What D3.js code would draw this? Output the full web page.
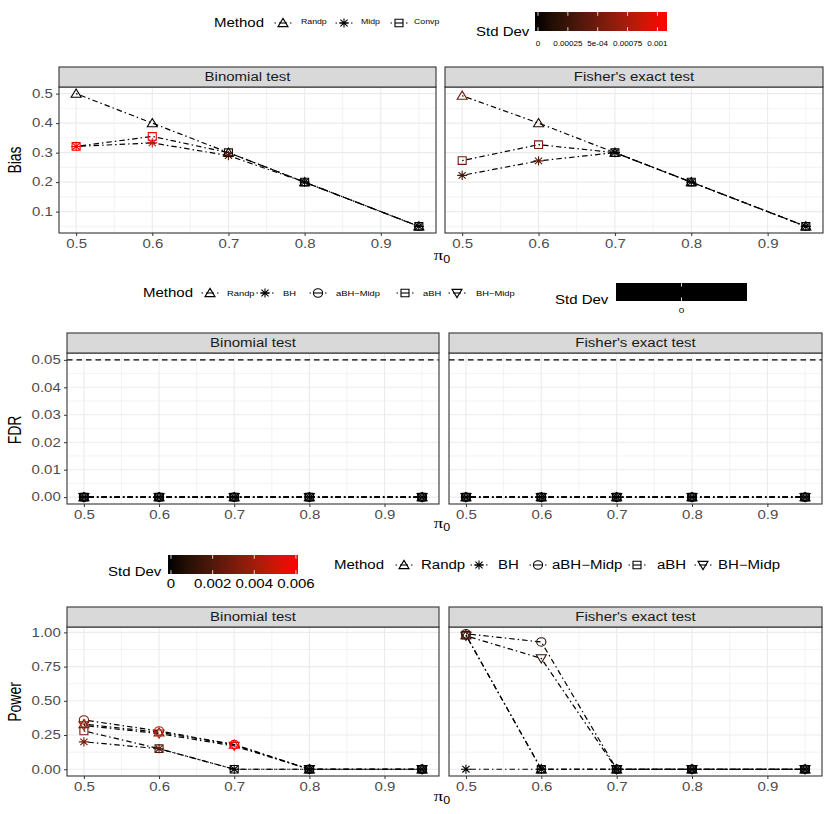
<!DOCTYPE html>
<html>
<head>
<meta charset="utf-8">
<script src="https://cdn.jsdelivr.net/npm/d3@7"></script>
<style>
  body { margin: 0; background: #fff; }
  svg { display: block; }
</style>
</head>
<body>
<div id="chart"></div>
<script>
// ---- data ----
const pi0 = [0.5, 0.6, 0.7, 0.8, 0.95];
const xTickValues = [0.5, 0.6, 0.7, 0.8, 0.9];
const testNames = ["Binomial test", "Fisher's exact test"];

const biasMethods = ["Randp", "Midp", "Convp"];
const fdrMethods = ["Randp", "BH", "aBH\u2212Midp", "aBH", "BH\u2212Midp"];

// bias, binomial test
const biasBinRandp = [0.50, 0.40, 0.30, 0.20, 0.05];
const biasBinMidp = [0.321, 0.333, 0.290, 0.20, 0.05];
const biasBinConvp = [0.321, 0.355, 0.300, 0.20, 0.05];
const sdBiasBinRandp = [0, 0, 0, 0, 0];
const sdBiasBinMidp = [0.00105, 0.0008, 0.00035, 0, 0];
const sdBiasBinConvp = [0.00107, 0.00105, 0.0001, 0, 0];
// bias, fisher
const biasFisRandp = [0.493, 0.40, 0.30, 0.20, 0.05];
const biasFisMidp = [0.223, 0.272, 0.30, 0.20, 0.05];
const biasFisConvp = [0.273, 0.327, 0.30, 0.20, 0.05];
const sdBiasFisRandp = [0.0005, 0.0001, 0, 0, 0];
const sdBiasFisMidp = [0.0003, 0.0004, 0, 0, 0];
const sdBiasFisConvp = [0.0005, 0.00055, 0, 0, 0];

// FDR (all methods zero in both tests)
const fdrBinRandp = [0, 0, 0, 0, 0];
const fdrBinBH = [0, 0, 0, 0, 0];
const fdrBinABHMidp = [0, 0, 0, 0, 0];
const fdrBinABH = [0, 0, 0, 0, 0];
const fdrBinBHMidp = [0, 0, 0, 0, 0];
const fdrFisRandp = [0, 0, 0, 0, 0];
const fdrFisBH = [0, 0, 0, 0, 0];
const fdrFisABHMidp = [0, 0, 0, 0, 0];
const fdrFisABH = [0, 0, 0, 0, 0];
const fdrFisBHMidp = [0, 0, 0, 0, 0];
const sdFdr = [0, 0, 0, 0, 0];
const fdrLevel = 0.05;

// power, binomial test
const powBinRandp = [0.33, 0.27, 0.18, 0, 0];
const powBinBH = [0.20, 0.15, 0, 0, 0];
const powBinABHMidp = [0.36, 0.28, 0.18, 0, 0];
const powBinABH = [0.28, 0.15, 0, 0, 0];
const powBinBHMidp = [0.32, 0.26, 0.17, 0, 0];
const sdPowBinRandp = [0.0035, 0.004, 0.006, 0, 0];
const sdPowBinBH = [0.003, 0.002, 0, 0, 0];
const sdPowBinABHMidp = [0.003, 0.0048, 0.006, 0, 0];
const sdPowBinABH = [0.003, 0.002, 0, 0, 0];
const sdPowBinBHMidp = [0.0035, 0.0045, 0.006, 0, 0];
// power, fisher
const powFisRandp = [0.98, 0, 0, 0, 0];
const powFisBH = [0, 0, 0, 0, 0];
const powFisABHMidp = [0.99, 0.93, 0, 0, 0];
const powFisABH = [0.98, 0, 0, 0, 0];
const powFisBHMidp = [0.975, 0.81, 0, 0, 0];
const sdPowFisRandp = [0.0015, 0, 0, 0, 0];
const sdPowFisBH = [0, 0, 0, 0, 0];
const sdPowFisABHMidp = [0.0015, 0.001, 0, 0, 0];
const sdPowFisABH = [0.0015, 0, 0, 0, 0];
const sdPowFisBHMidp = [0.0015, 0.001, 0, 0, 0];

// tick labels
const biasYTicks = [0.1, 0.2, 0.3, 0.4, 0.5];
const fdrYTicks = [0, 0.01, 0.02, 0.03, 0.04, 0.05];
const powYTicks = [0, 0.25, 0.5, 0.75, 1];
const biasSdMax = 0.00108;
const biasSdTicks = [0, 0.00025, 0.0005, 0.00075, 0.001];
const biasSdLabels = ["0", "0.00025", "5e-04", "0.00075", "0.001"];
const powSdMax = 0.0061;
const powSdTicks = [0, 0.002, 0.004, 0.006];
const powSdLabels = ["0", "0.002", "0.004", "0.006"];

// ---- setup ----
const FONT = "'Liberation Sans', Arial, Helvetica, sans-serif";
const SX = 1.25; // the original image is horizontally stretched
const shapeOf = {
    "Randp": "triUp", "Midp": "star", "Convp": "square",
    "BH": "star", "aBH\u2212Midp": "circle", "aBH": "square", "BH\u2212Midp": "triDown"
};

const svg = d3.select("#chart").append("svg")
    .attr("width", 830).attr("height", 814)
    .style("font-family", FONT);
const defs = svg.append("defs");

function label(g, x, y, s, size, anchor, fill) {
    return g.append("text")
        .attr("transform", `translate(${x},${y}) scale(${SX},1)`)
        .attr("text-anchor", anchor || "start")
        .attr("font-size", size)
        .attr("fill", fill || "#000")
        .text(s);
}

function shapePath(name) {
    switch (name) {
        case "triUp": return "M0,-4.6L5,3.6L-5,3.6Z";
        case "triDown": return "M0,4.6L5,-3.6L-5,-3.6Z";
        case "square": return "M-4,-3.8H4V3.8H-4Z";
        case "circle": return "M4.6,0A4.6,4.2 0 1 1 -4.6,0A4.6,4.2 0 1 1 4.6,0Z";
        case "star": return "M0,-4.6V4.6M-5,0H5M-3.6,-3.3L3.6,3.3M-3.6,3.3L3.6,-3.3";
    }
}

function minorOf(ticks, lo, hi) {
    const step = ticks[1] - ticks[0];
    const out = [];
    for (let k = -1; k < ticks.length; k++) {
        const v = ticks[0] + step * (k + 0.5);
        if (v > lo && v < hi) out.push(v);
    }
    return out;
}

function drawPanel(root, p) {
    const g = root.append("g");
    const x = d3.scaleLinear().domain([0.4775, 0.9725]).range([p.x0, p.x1]);
    const y = d3.scaleLinear().domain(p.yDomain).range([p.yBot, p.yTop]);

    g.append("rect").attr("x", p.x0).attr("y", p.yTop)
        .attr("width", p.x1 - p.x0).attr("height", p.yBot - p.yTop).attr("fill", "#fff");

    // grid
    const xMinor = minorOf(xTickValues, 0.4775, 0.9725);
    const yMinor = minorOf(p.yTicks, p.yDomain[0], p.yDomain[1]);
    g.selectAll(".gxm").data(xMinor).enter().append("line")
        .attr("x1", d => x(d)).attr("x2", d => x(d)).attr("y1", p.yTop).attr("y2", p.yBot)
        .attr("stroke", "#ebebeb").attr("stroke-width", 0.6);
    g.selectAll(".gym").data(yMinor).enter().append("line")
        .attr("y1", d => y(d)).attr("y2", d => y(d)).attr("x1", p.x0).attr("x2", p.x1)
        .attr("stroke", "#ebebeb").attr("stroke-width", 0.6);
    g.selectAll(".gx").data(xTickValues).enter().append("line")
        .attr("x1", d => x(d)).attr("x2", d => x(d)).attr("y1", p.yTop).attr("y2", p.yBot)
        .attr("stroke", "#ebebeb").attr("stroke-width", 1.1);
    g.selectAll(".gy").data(p.yTicks).enter().append("line")
        .attr("y1", d => y(d)).attr("y2", d => y(d)).attr("x1", p.x0).attr("x2", p.x1)
        .attr("stroke", "#ebebeb").attr("stroke-width", 1.1);

    if (p.hline !== undefined) {
        g.append("line").attr("x1", p.x0).attr("x2", p.x1)
            .attr("y1", y(p.hline)).attr("y2", y(p.hline))
            .attr("stroke", "#000").attr("stroke-width", 1.2).attr("stroke-dasharray", "5.5 4");
    }

    const line = d3.line().x((d, i) => x(pi0[i])).y(d => y(d));
    g.selectAll(".series").data(p.series).enter().append("path")
        .attr("d", s => line(s.values))
        .attr("fill", "none").attr("stroke", "#000").attr("stroke-width", 1.2)
        .attr("stroke-dasharray", "1.5 3 5.5 3");

    p.series.forEach(s => {
        g.selectAll(null).data(s.values).enter().append("path")
            .attr("transform", (d, i) => `translate(${x(pi0[i])},${y(d)})`)
            .attr("d", shapePath(shapeOf[s.method]))
            .attr("fill", "none")
            .attr("stroke", (d, i) => p.color(s.sd[i]))
            .attr("stroke-width", 1.1);
    });

    // border
    g.append("rect").attr("x", p.x0).attr("y", p.yTop)
        .attr("width", p.x1 - p.x0).attr("height", p.yBot - p.yTop)
        .attr("fill", "none").attr("stroke", "#333").attr("stroke-width", 1.1);
    // strip
    g.append("rect").attr("x", p.x0).attr("y", p.yStrip)
        .attr("width", p.x1 - p.x0).attr("height", p.yTop - p.yStrip)
        .attr("fill", "#d9d9d9").attr("stroke", "#333").attr("stroke-width", 1.1);
    label(g, (p.x0 + p.x1) / 2, (p.yStrip + p.yTop) / 2 + 4.3, p.title, 12, "middle", "#1a1a1a");

    // x axis
    const xa = g.append("g").attr("transform", `translate(0,${p.yBot})`)
        .call(d3.axisBottom(x).tickValues(xTickValues).tickSize(3).tickPadding(3).tickFormat(d3.format(".1f")));
    xa.select(".domain").remove();
    xa.selectAll("line").attr("stroke", "#333");
    xa.selectAll("text").attr("fill", "#4d4d4d").attr("font-size", 12)
        .attr("font-family", FONT).attr("transform", `scale(${SX},1)`);

    if (p.showY) {
        const ya = g.append("g").attr("transform", `translate(${p.x0},0)`)
            .call(d3.axisLeft(y).tickValues(p.yTicks).tickSize(3).tickPadding(2).tickFormat(d3.format(p.fmt)));
        ya.select(".domain").remove();
        ya.selectAll("line").attr("stroke", "#333");
        ya.selectAll("text").attr("fill", "#4d4d4d").attr("font-size", 12)
            .attr("font-family", FONT).attr("transform", `scale(${SX},1)`);
    }
}

function drawPlot(cfg) {
    const root = svg.append("g");
    cfg.panels.forEach((series, k) => {
        drawPanel(root, {
            x0: cfg.xs[k][0], x1: cfg.xs[k][1],
            yStrip: cfg.yStrip, yTop: cfg.yTop, yBot: cfg.yBot,
            yDomain: cfg.yDomain, yTicks: cfg.yTicks, fmt: cfg.fmt,
            title: testNames[k], series: series, color: cfg.color,
            hline: cfg.hline, showY: k === 0
        });
    });
    // y title
    root.append("text")
        .attr("transform", `translate(21,${cfg.yTitleY}) scale(${SX},1) rotate(-90)`)
        .attr("text-anchor", "middle").attr("font-size", 14).attr("fill", "#000")
        .text(cfg.yTitle);
    // x title pi_0
    const t = root.append("text")
        .attr("transform", `translate(442,${cfg.piY}) scale(${SX},1)`)
        .attr("text-anchor", "middle").attr("fill", "#000");
    t.append("tspan").attr("font-size", 15).attr("font-family", "'Liberation Serif', 'DejaVu Serif', serif").text("\u03c0");
    t.append("tspan").attr("font-size", 10).attr("dy", 3).text("0");
}

function methodLegend(g, o) {
    label(g, o.x, o.y + 4.3, "Method", 12, "start", "#000");
    o.methods.forEach((m, k) => {
        const cx = o.keys[k];
        g.append("line").attr("x1", cx - 8.5).attr("x2", cx - 7).attr("y1", o.y).attr("y2", o.y)
            .attr("stroke", "#000").attr("stroke-width", 1.2);
        g.append("line").attr("x1", cx + 7).attr("x2", cx + 8.5).attr("y1", o.y).attr("y2", o.y)
            .attr("stroke", "#000").attr("stroke-width", 1.2);
        g.append("path").attr("transform", `translate(${cx},${o.y})`)
            .attr("d", shapePath(shapeOf[m])).attr("fill", "none")
            .attr("stroke", "#000").attr("stroke-width", 1.1);
        g.append("line").attr("x1", cx - 4).attr("x2", cx + 4).attr("y1", o.y).attr("y2", o.y)
            .attr("stroke", "#000").attr("stroke-width", 1.1);
        label(g, o.labels[k], o.y + o.labelSize * 0.36 + (o.labelDy || 0), m, o.labelSize, "start", "#000");
    });
}

function colorBar(g, o) {
    label(g, o.tx, o.ty, "Std Dev", 12, "start", "#000");
    const id = "grad" + o.id;
    const grad = defs.append("linearGradient").attr("id", id)
        .attr("x1", "0%").attr("x2", "100%").attr("y1", "0%").attr("y2", "0%");
    d3.range(0, 1.0001, 0.05).forEach(t => {
        const px = o.x0 + t * (o.x1 - o.x0);
        const v = o.pos ? Math.max(0, Math.min(o.max, o.pos.invert(px))) : 0;
        grad.append("stop").attr("offset", (t * 100) + "%").attr("stop-color", o.color(v));
    });
    g.append("rect").attr("x", o.x0).attr("y", o.y0).attr("width", o.x1 - o.x0)
        .attr("height", o.y1 - o.y0).attr("fill", `url(#${id})`);
    const tl = (o.y1 - o.y0) / 5;
    o.ticks.forEach((v, k) => {
        const px = o.pos ? o.pos(v) : (o.x0 + o.x1) / 2;
        g.append("line").attr("x1", px).attr("x2", px).attr("y1", o.y0).attr("y2", o.y0 + tl)
            .attr("stroke", "#fff").attr("stroke-width", 0.8);
        g.append("line").attr("x1", px).attr("x2", px).attr("y1", o.y1 - tl).attr("y2", o.y1)
            .attr("stroke", "#fff").attr("stroke-width", 0.8);
        label(g, px, o.labelY, o.labels[k], o.labelSize, "middle", "#000");
    });
}

const biasColor = d3.scaleLinear().domain([0, biasSdMax]).range(["#000000", "#ff0000"])
    .interpolate(d3.interpolateLab).clamp(true);
const fdrColor = () => "#000000";
const powColor = d3.scaleLinear().domain([0, powSdMax]).range(["#000000", "#ff0000"])
    .interpolate(d3.interpolateLab).clamp(true);

function mk(methods, vals, sds) {
    return methods.map((m, k) => ({ method: m, values: vals[k], sd: sds[k] }));
}

// ---- top: bias ----
drawPlot({
    xs: [[59, 436], [445, 823]], yStrip: 67, yTop: 87, yBot: 233,
    yDomain: [0.0275, 0.5225], yTicks: biasYTicks, fmt: ".1f",
    color: biasColor, yTitle: "Bias", yTitleY: 160, piY: 260,
    panels: [
        mk(biasMethods, [biasBinRandp, biasBinMidp, biasBinConvp], [sdBiasBinRandp, sdBiasBinMidp, sdBiasBinConvp]),
        mk(biasMethods, [biasFisRandp, biasFisMidp, biasFisConvp], [sdBiasFisRandp, sdBiasFisMidp, sdBiasFisConvp])
    ]
});
const legTop = svg.append("g");
methodLegend(legTop, { x: 214, y: 23, methods: biasMethods, keys: [283, 344, 399], labels: [301, 361, 414], labelSize: 7, labelDy: -2 });
colorBar(legTop, {
    id: "top", tx: 476, ty: 36, x0: 535, x1: 667, y0: 12, y1: 31,
    pos: d3.scaleLinear().domain([0, biasSdMax]).range([538, 667]), max: biasSdMax,
    color: biasColor, ticks: biasSdTicks, labels: biasSdLabels, labelSize: 6.5, labelY: 45.5
});

// ---- middle: FDR ----
drawPlot({
    xs: [[67, 439], [449, 822]], yStrip: 333, yTop: 353, yBot: 504,
    yDomain: [-0.0025, 0.0525], yTicks: fdrYTicks, fmt: ".2f", hline: fdrLevel,
    color: fdrColor, yTitle: "FDR", yTitleY: 430, piY: 528,
    panels: [
        mk(fdrMethods, [fdrBinRandp, fdrBinBH, fdrBinABHMidp, fdrBinABH, fdrBinBHMidp], [sdFdr, sdFdr, sdFdr, sdFdr, sdFdr]),
        mk(fdrMethods, [fdrFisRandp, fdrFisBH, fdrFisABHMidp, fdrFisABH, fdrFisBHMidp], [sdFdr, sdFdr, sdFdr, sdFdr, sdFdr])
    ]
});
const legMid = svg.append("g");
methodLegend(legMid, { x: 143, y: 293, methods: fdrMethods, keys: [210, 265, 318, 405, 457], labels: [227, 283, 336, 423, 476], labelSize: 7.5 });
colorBar(legMid, {
    id: "mid", tx: 555, ty: 304, x0: 616, x1: 747, y0: 283, y1: 301,
    pos: null, max: 0, color: fdrColor, ticks: [0], labels: ["0"], labelSize: 8, labelY: 313
});

// ---- bottom: power ----
drawPlot({
    xs: [[67, 439], [449, 822]], yStrip: 607, yTop: 627, yBot: 776,
    yDomain: [-0.0495, 1.0395], yTicks: powYTicks, fmt: ".2f",
    color: powColor, yTitle: "Power", yTitleY: 702, piY: 801,
    panels: [
        mk(fdrMethods, [powBinRandp, powBinBH, powBinABHMidp, powBinABH, powBinBHMidp],
            [sdPowBinRandp, sdPowBinBH, sdPowBinABHMidp, sdPowBinABH, sdPowBinBHMidp]),
        mk(fdrMethods, [powFisRandp, powFisBH, powFisABHMidp, powFisABH, powFisBHMidp],
            [sdPowFisRandp, sdPowFisBH, sdPowFisABHMidp, sdPowFisABH, sdPowFisBHMidp])
    ]
});
const legBot = svg.append("g");
colorBar(legBot, {
    id: "bot", tx: 108, ty: 576, x0: 168, x1: 298, y0: 555, y1: 574,
    pos: d3.scaleLinear().domain([0, powSdMax]).range([171, 298]), max: powSdMax,
    color: powColor, ticks: powSdTicks, labels: powSdLabels, labelSize: 12, labelY: 587.5
});
methodLegend(legBot, { x: 334, y: 565, methods: fdrMethods, keys: [404, 479, 538, 637, 703], labels: [421, 498, 552, 657, 718], labelSize: 12 });
</script>
</body>
</html>
